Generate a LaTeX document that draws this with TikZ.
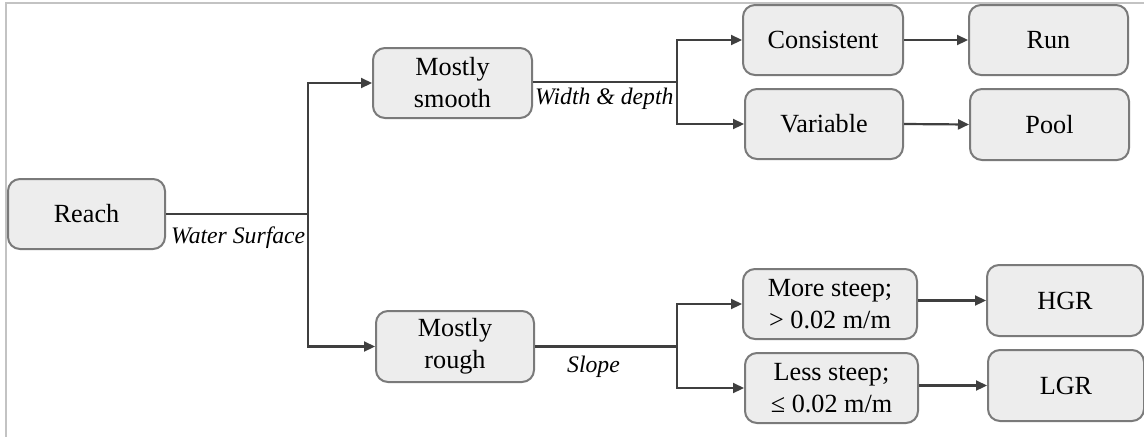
\documentclass[tikz,border=0pt]{standalone}
\usepackage{fontspec}
\setmainfont{Liberation Serif}
\usetikzlibrary{arrows.meta}
\definecolor{boxfill}{HTML}{EDEDED}
\definecolor{boxline}{HTML}{7A7A7A}
\definecolor{linkline}{HTML}{3F3F3F}
\definecolor{framegray}{HTML}{C3C3C3}
\tikzset{
  stagebox/.style={draw=boxline, fill=boxfill, line width=2pt, rounded corners=12pt,
    align=center, inner sep=0pt, minimum height=70pt, font=\fontsize{26.2}{32}\selectfont},
  link/.style={draw=linkline, line width=2.2pt},
  arrowlink/.style={link, -{Triangle[length=11pt,width=10pt]}},
  edgelabel/.style={inner sep=0pt, font=\fontsize{23.7}{28}\selectfont\itshape}
}
\begin{document}
\begin{tikzpicture}[x=1pt,y=-1pt]
\useasboundingbox (0,0) rectangle (1144,437);
% outer frame (top and left edges only)
\draw[framegray, line width=2.2pt] (5,3) -- (1144,3);
\draw[framegray, line width=2.2pt] (6,3) -- (6,437);

% boxes
\node[stagebox, minimum width=157pt] (reach) at (86.5,214) {Reach};
\node[stagebox, minimum width=159pt] (smooth) at (452.5,83) {Mostly\\smooth};
\node[stagebox, minimum width=158pt, minimum height=71pt] (rough) at (455,346.5) {Mostly\\rough};
\node[stagebox, minimum width=160pt] (consistent) at (823,40) {Consistent};
\node[stagebox, minimum width=158pt] (variable) at (824,124) {Variable};
\node[stagebox, minimum width=159pt] (run) at (1048.5,40) {Run};
\node[stagebox, minimum width=159pt, minimum height=71pt] (pool) at (1049.5,124.5) {Pool};
\node[stagebox, minimum width=174pt] (more) at (830,304) {More steep;\\> 0.02 m/m};
\node[stagebox, minimum width=173pt] (less) at (831.5,388) {Less steep;\\≤ 0.02 m/m};
\node[stagebox, minimum width=156pt, minimum height=71pt] (hgr) at (1065,300.5) {HGR};
\node[stagebox, minimum width=156pt, minimum height=71pt] (lgr) at (1066,385.5) {LGR};

% branch points
\coordinate (j1) at (308,214);
\coordinate (j2) at (677,82);
\coordinate (j3) at (677,346.5);

% first split: water surface
\draw[link] (reach.east) -- (j1);
\draw[arrowlink] (j1) |- (smooth.west);
\draw[arrowlink] (j1) |- (rough.west);
\node[edgelabel, anchor=base west] (lblwater) at (171,243) {Water Surface};

% smooth branch: width and depth
\draw[link] (smooth.east |- j2) -- (j2);
\draw[arrowlink] (j2) |- (consistent.west);
\draw[arrowlink] (j2) |- (variable.west);
\node[edgelabel, anchor=base west] (lblwidth) at (535,104) {Width \& depth};
\draw[arrowlink] (consistent.east) -- (run.west);
\draw[arrowlink] (variable.east) -- (pool.west);

% rough branch: slope
\draw[link] (rough.east) -- (j3);
\draw[arrowlink] (j3) |- (more.west);
\draw[arrowlink] (j3) |- (less.west);
\node[edgelabel, anchor=base west] (lblslope) at (567,372) {Slope};
\draw[arrowlink] (more.east |- hgr) -- (hgr.west);
\draw[arrowlink] (less.east |- lgr) -- (lgr.west);
\end{tikzpicture}
\end{document}
